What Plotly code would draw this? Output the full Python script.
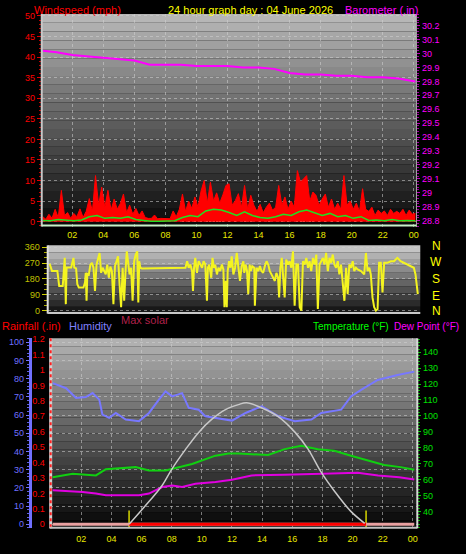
import plotly.graph_objects as go

W, H = 466, 554
def fx(p): return p / W
def fy(p): return 1 - p / H

# ---------------- DATA ----------------
hour_ticks = [2, 4, 6, 8, 10, 12, 14, 16, 18, 20, 22, 24]
hour_labels = ["02", "04", "06", "08", "10", "12", "14", "16", "18", "20", "22", "00"]

baro_hours = [0.1, 1, 2, 3, 4, 5, 6, 7, 8, 9, 10, 11, 12, 13, 14, 15, 16, 17, 18, 19, 20, 21, 22, 23, 24.1]
baro_in = [30.02, 30.01, 29.99, 29.98, 29.97, 29.96, 29.95, 29.92, 29.92, 29.92, 29.91, 29.91, 29.91,
           29.90, 29.90, 29.89, 29.86, 29.85, 29.85, 29.84, 29.84, 29.83, 29.83, 29.82, 29.80]

gust_hours = [round(0.1 + 0.2 * i, 2) for i in range(121)]
gust_mph = [
    1.2, 0.6, 1.8, 0.8, 3.0,
    1.0, 7.6, 1.5, 2.2, 0.8,
    2.0, 1.2, 3.1, 1.0, 2.5,
    5.6, 2.5, 11.2, 4.0, 8.4,
    3.5, 7.6, 2.8, 5.5, 3.0,
    4.4, 6.7, 2.2, 4.0, 1.8,
    3.2, 1.5, 2.6, 1.0, 0.8,
    0.8, 1.6, 0.7, 0.8, 0.8,
    0.8, 0.7, 2.6, 1.2, 3.0,
    6.7, 2.5, 5.0, 3.2, 6.0,
    3.5, 7.5, 10.0, 4.5, 9.6,
    5.0, 7.0, 4.5, 6.5, 8.8,
    9.2, 4.0, 5.1, 6.8, 3.5,
    8.8, 3.0, 6.4, 4.0, 2.5,
    4.2, 2.2, 3.5, 4.5, 2.8,
    3.5, 8.8, 4.0, 6.0, 3.0,
    5.0, 3.5, 12.4, 9.6, 10.4,
    11.2, 5.0, 7.2, 6.4, 4.0,
    5.5, 6.7, 3.5, 5.5, 3.0,
    4.5, 3.0, 11.2, 4.0, 5.0,
    3.0, 4.5, 2.5, 8.0, 3.0,
    2.5, 3.5, 1.5, 2.8, 2.0,
    2.6, 1.5, 3.0, 2.0, 2.5,
    2.0, 3.0, 1.5, 2.8, 1.8,
    2.0,
]

avg_hours = [0.1, 0.6, 1.1, 1.6, 2.1, 2.6, 3.1, 3.6, 4.1, 4.6, 5.1, 5.6, 6.1, 6.6, 7.1, 7.6, 8.1, 8.6,
             9.1, 9.6, 10.1, 10.6, 11.1, 11.6, 12.1, 12.6, 13.1, 13.6, 14.1, 14.6, 15.1, 15.6, 16.1,
             16.6, 17.1, 17.6, 18.1, 18.6, 19.1, 19.6, 20.1, 20.6, 21.1, 21.6, 22.1, 22.6, 23.1, 23.6, 24.1]
avg_mph = [0.3, 0.2, 0.5, 0.3, 0.2, 0.4, 1.2, 1.5, 0.8, 1.0, 0.8, 1.2, 0.5, 0.3, 0.1, 0.1, 0.1, 0.2,
           1.0, 1.5, 1.2, 2.6, 3.0, 2.8, 2.2, 1.5, 2.4, 1.5, 1.0, 0.8, 1.2, 1.8, 1.5,
           2.4, 2.8, 2.2, 1.5, 2.0, 1.2, 1.5, 0.8, 1.2, 0.3, 0.4, 0.2, 0.5, 0.2, 0.3, 0.2]

speed_hours = [9.1, 9.5, 9.9, 10.3, 10.7, 10.9, 11.1, 11.3, 11.5, 11.7, 12.1, 12.5, 13.1, 13.5, 14.1,
               14.7, 15.5, 15.9, 16.5, 16.7, 16.9, 17.3, 17.5, 17.9, 18.3, 18.7, 19.1, 19.5, 20.2,
               20.6]
speed_mph = [1.5, 1.0, 2.0, 1.2, 2.5, 3.5, 2.0, 3.0, 1.5, 3.2, 2.0, 1.0, 2.5, 1.5, 1.0,
             1.2, 2.5, 1.0, 2.0, 3.5, 2.0, 3.0, 2.5, 1.5, 2.0, 1.2, 2.0, 1.5, 3.0,
             1.0]

dir_hours = [0.10, 0.25, 0.60, 0.72, 0.95, 1.03, 1.08, 1.15, 1.20, 1.50, 1.65, 1.70, 1.82, 1.90, 2.00,
             2.30, 2.40, 2.45, 2.50, 2.55, 2.65, 2.75, 2.85, 2.95, 3.05, 3.15, 3.25, 3.35, 3.45, 3.55,
             3.65, 3.75, 3.85, 3.95, 4.05, 4.15, 4.25, 4.35, 4.45, 4.55, 4.65, 4.75, 4.85, 4.95, 5.05,
             5.12, 5.20, 5.30, 5.40, 5.50, 5.60, 5.70, 5.80, 5.87, 5.93, 6.00, 6.10, 6.57, 8.83,
             8.94, 9.05, 9.15, 9.26, 9.37, 9.43, 9.50, 9.58, 9.69, 9.80, 9.91, 10.02, 10.12, 10.23,
             10.34, 10.40, 10.49, 10.62, 10.70, 10.79, 10.88, 10.99, 11.09, 11.20, 11.31, 11.41, 11.48,
             11.57, 11.63, 11.69, 11.78, 11.87, 11.95, 12.06, 12.17, 12.28, 12.39, 12.49, 12.60, 12.71,
             12.77, 12.86, 12.95, 13.03, 13.12, 13.20, 13.29, 13.42, 13.46, 13.57, 13.68, 13.79, 13.89,
             14.00, 14.11, 14.22, 14.33, 14.43, 14.54, 14.65, 14.76, 14.86, 14.97, 15.04, 15.12, 15.21,
             15.40, 15.50, 15.62, 15.72, 15.83, 15.94, 16.05, 16.16, 16.27, 16.38, 16.49, 16.59, 16.70,
             16.81, 16.92, 17.02, 17.13, 17.24, 17.35, 17.46, 17.56, 17.67, 17.78, 17.89, 17.99, 18.10,
             18.21, 18.32, 18.43, 18.53, 18.64, 18.75, 18.86, 18.96, 19.07, 19.29, 19.40, 19.50, 19.61,
             19.72, 19.83, 19.93, 20.04, 20.15, 20.37, 20.58, 20.69, 20.80, 20.91, 21.01, 21.12, 21.23,
             21.34, 21.45, 21.55, 21.66, 21.77, 21.88, 22.09, 22.31, 22.52, 22.74, 22.95, 23.17, 23.38,
             23.60, 23.81, 23.92, 24.07]
dir_deg = [266, 225, 225, 140, 140, 244, 300, 37, 247, 245, 300, 245, 240, 150, 131,
           131, 160, 215, 56, 210, 206, 262, 272, 244, 112, 262, 300, 328, 215, 244,
           225, 206, 262, 187, 250, 225, 37, 253, 281, 309, 150, 19, 244, 56, 244,
           337, 281, 206, 244, 56, 281, 319, 337, 47, 281, 244, 240, 240, 240,
           244, 281, 244, 262, 225, 112, 244, 300, 215, 281, 262, 244, 281, 262,
           56, 244, 262, 187, 300, 244, 262, 206, 244, 225, 262, 234, 19,
           169, 19, 225, 281, 244, 309, 206, 244, 328, 244, 169, 253, 281,
           215, 262, 225, 94, 262, 225, 253, 244, 28, 244, 225, 253, 225,
           215, 253, 281, 262, 225, 206, 187, 169, 215, 187, 75, 244, 300,
           75, 290, 262, 281, 244, 337, 28, 262, 262, 19, 0, 281, 262,
           300, 244, 281, 225, 300, 262, 319, 9, 262, 281, 300, 262, 328,
           225, 300, 272, 319, 262, 244, 281, 206, 262, 56, 244, 94, 262,
           244, 281, 225, 244, 234, 225, 206, 328, 225, 244, 206, 75, 19,
           0, 9, 272, 272, 103, 272, 272, 281, 281, 300, 281, 272, 262,
           253, 244, 206, 94]

hum_hours = [0.1, 0.99, 1.65, 2.3, 2.75, 3.19, 3.4, 3.85, 4.29, 4.95, 5.83, 6.49, 7.15, 7.59, 8.03,
             8.69, 9.13, 9.79, 10.23, 10.9, 11.55, 12.0, 12.9, 13.97, 15.07, 16.17, 17.27, 17.93,
             19.25, 19.9, 20.57, 21.67, 22.99, 24.1]
humidity = [77.6, 74.8, 69.4, 69.9, 72.1, 68.5, 60.3, 58.5, 61.2, 57.6, 56.7, 61.2, 68.5, 73.0, 70.3,
            72.1, 64.0, 63.0, 59.4, 58.5, 57.6, 57.0, 61.2, 64.8, 59.4, 56.7, 57.6, 61.2,
            63.0, 70.3, 73.9, 79.3, 82.1, 83.9]

temp_hours = [0.1, 1.43, 2.97, 3.63, 5.6, 6.49, 7.59, 8.03, 9.35, 10.9, 11.77, 12.43, 13.3, 14.4,
              15.5, 16.6, 17.7, 18.8, 19.9, 21.0, 22.1, 23.2, 24.1]
temp_f = [61.5, 63.6, 62.6, 66.5, 67.8, 65.7, 65.7, 66.7, 69.8, 75.0, 76.4, 76.4, 76.0, 75.4,
          79.1, 81.2, 79.1, 78.1, 75.0, 71.9, 69.2, 67.8, 66.1]

dew_hours = [0.1, 2.09, 2.97, 3.63, 4.73, 5.83, 6.49, 7.37, 8.03, 8.69, 9.57, 10.9, 12.0, 13.3,
             15.5, 17.7, 20.35, 21.7, 23.1, 24.1]
dew_f = [53.2, 52.2, 51.2, 50.1, 50.1, 50.1, 51.2, 55.3, 56.3, 55.3, 57.4, 58.4, 59.9, 62.6,
         63.0, 63.6, 64.2, 62.6, 61.5, 60.0]

solar_hours = [5.17, 6.49, 7.35, 8.01, 8.93, 9.79, 10.65, 11.57, 12.43, 12.96, 13.95, 15.07, 16.19,
               17.05, 17.91, 18.83, 19.89, 20.81]
max_solar = [0, 169, 286, 410, 558, 682, 778, 851, 888, 902, 865, 799, 682, 558, 389, 242, 96, 7]

rain_hours = [0.1, 24.1]
rain_in = [0.0, 0.0]
sunrise, sunset = 5.17, 20.9

# ---------------- FIGURE ----------------
FONT = "Liberation Sans, Arial, sans-serif"
fig = go.Figure()

# top panel
fig.add_trace(go.Scatter(x=gust_hours, y=gust_mph, mode="lines", fill="tozeroy",
                         line=dict(color="#ff0000", width=1), fillcolor="#ff0000",
                         xaxis="x", yaxis="y"))
fig.add_trace(go.Bar(x=speed_hours, y=speed_mph, width=0.09, marker=dict(color="#d8f4d8", line_width=0),
                     xaxis="x", yaxis="y"))
fig.add_trace(go.Scatter(x=avg_hours, y=avg_mph, mode="lines",
                         line=dict(color="#20e020", width=1.5), xaxis="x", yaxis="y"))
fig.add_trace(go.Scatter(x=baro_hours, y=baro_in, mode="lines",
                         line=dict(color="#ff00ff", width=2), xaxis="x", yaxis="y2"))

# middle panel
fig.add_trace(go.Scatter(x=dir_hours, y=dir_deg, mode="lines",
                         line=dict(color="#f4f420", width=2), xaxis="x2", yaxis="y3"))

# bottom panel
fig.add_trace(go.Scatter(x=rain_hours, y=rain_in, mode="lines",
                         line=dict(color="#e8a0a0", width=3), xaxis="x3", yaxis="y5"))
fig.add_trace(go.Scatter(x=[sunrise, sunset], y=[rain_in[0], rain_in[-1]], mode="lines",
                         line=dict(color="#ff0000", width=3), xaxis="x3", yaxis="y5"))
fig.add_trace(go.Scatter(x=hum_hours, y=humidity, mode="lines",
                         line=dict(color="#7878ff", width=2), xaxis="x3", yaxis="y4"))
fig.add_trace(go.Scatter(x=temp_hours, y=temp_f, mode="lines",
                         line=dict(color="#10d010", width=2), xaxis="x3", yaxis="y6"))
fig.add_trace(go.Scatter(x=dew_hours, y=dew_f, mode="lines",
                         line=dict(color="#e000e0", width=2), xaxis="x3", yaxis="y6"))
fig.add_trace(go.Scatter(x=solar_hours, y=max_solar, mode="lines", line_shape="spline",
                         line=dict(color="#c8c8c8", width=1.5), xaxis="x3", yaxis="y7"))
fig.add_trace(go.Scatter(x=[sunrise, sunrise, None, sunset, sunset],
                         y=[-2.2, 7.6, None, -2.2, 7.6], mode="lines",
                         line=dict(color="#d8d800", width=1.5), xaxis="x3", yaxis="y4"))

# ---------------- BACKGROUND ----------------
shapes = []
def bands(x0, x1, y0, y1, c_top, c_bot, n):
    for i in range(n):
        t = i / (n - 1)
        c = int(round(c_top + (c_bot - c_top) * t))
        shapes.append(dict(type="rect", xref="paper", yref="paper",
                           x0=fx(x0), x1=fx(x1),
                           y0=fy(y0 + (y1 - y0) * i / n), y1=fy(y0 + (y1 - y0) * (i + 1) / n),
                           fillcolor=f"rgb({c},{c},{c})", line_width=0, layer="below"))

bands(42, 419, 10, 225, 182, 10, 24)
bands(48, 423, 244, 313, 196, 24, 10)
bands(50, 420, 338, 530, 176, 8, 24)

def pline(x0, y0, x1, y1, color, width=1, dash=None):
    d = dict(type="line", xref="paper", yref="paper", x0=fx(x0), y0=fy(y0), x1=fx(x1), y1=fy(y1),
             line=dict(color=color, width=width), layer="above")
    if dash:
        d["line"]["dash"] = dash
    shapes.append(d)

pline(42, 10, 42, 225, "#c8c8c8", 2)
pline(42, 224, 419, 224, "#c8f0c8", 2)
pline(48, 244, 48, 313, "#e0e0e0", 2)
pline(48, 312.5, 423, 312.5, "#c8c8c8", 2)
pline(51, 338, 51, 530, "#d0d0d0", 3)
pline(51, 338, 51, 530, "#ff2020", 2, "dot")
pline(50, 529.5, 420, 529.5, "#c0c0c0", 2)
pline(420, 338, 420, 530, "#d8d8d8", 2)

# ---------------- AXES ----------------
grid = "rgba(210,210,210,0.55)"

layout_axes = dict(
    xaxis=dict(domain=[fx(42), fx(419)], range=[0.036, 24.16], anchor="y",
               tickvals=hour_ticks, ticktext=hour_labels, ticks="",
               tickfont=dict(family=FONT, size=9, color="#e8e800"), ticklabelstandoff=1,
               showgrid=True, gridcolor=grid, griddash="dot", gridwidth=1,
               zeroline=False, showline=False),
    yaxis=dict(domain=[fy(225), fy(10)], range=[-1.2, 50.5], anchor="x",
               tickvals=list(range(0, 51, 5)), ticks="outside", ticklen=4, tickcolor="#e00000",
               tickfont=dict(family=FONT, size=9, color="#ff0000"),
               minor=dict(dtick=1, tick0=0, ticks="outside", ticklen=2, tickcolor="#c00000", showgrid=False),
               showgrid=True, gridcolor=grid, griddash="dot", zeroline=False, showline=False),
    yaxis2=dict(overlaying="y", side="right", anchor="x", range=[28.757, 30.285],
                tickvals=[28.8, 28.9, 29.0, 29.1, 29.2, 29.3, 29.4, 29.5, 29.6, 29.7, 29.8, 29.9, 30.0, 30.1, 30.2],
                ticktext=["28.8", "28.9", "29", "29.1", "29.2", "29.3", "29.4", "29.5", "29.6", "29.7",
                          "29.8", "29.9", "30", "30.1", "30.2"],
                ticks="outside", ticklen=3, tickcolor="#c000c0",
                tickfont=dict(family=FONT, size=9, color="#ff00ff"),
                minor=dict(dtick=0.02, tick0=28.8, ticks="outside", ticklen=2, tickcolor="#a000a0", showgrid=False),
                showgrid=False, zeroline=False, showline=True, linecolor="#a0a0a0", linewidth=1),
    xaxis2=dict(domain=[fx(48), fx(423)], range=[-0.03, 24.23], anchor="y3",
                showticklabels=False, ticks="", showgrid=False, zeroline=False, showline=False),
    yaxis3=dict(domain=[fy(313), fy(244)], range=[-16.9, 371.25], anchor="x2",
                tickvals=[0, 90, 180, 270, 360], ticks="outside", ticklen=5, tickcolor="#d0d000",
                tickfont=dict(family=FONT, size=9, color="#c0c000"),
                minor=dict(dtick=30, tick0=0, ticks="outside", ticklen=3, tickcolor="#b0b000", showgrid=False),
                showgrid=True, gridcolor=grid, griddash="dot", zeroline=False, showline=False),
    xaxis3=dict(domain=[fx(50), fx(420)], range=[-0.1, 24.3], anchor="y4",
                tickvals=hour_ticks, ticktext=hour_labels, ticks="",
                tickfont=dict(family=FONT, size=9, color="#e8e800"), ticklabelstandoff=4,
                showgrid=True, gridcolor=grid, griddash="dot", zeroline=False, showline=False),
    yaxis4=dict(domain=[fy(530), fy(338)], range=[-2.17, 102.2], anchor="free", position=fx(30),
                side="left", tickvals=list(range(0, 101, 10)), ticks="outside", ticklen=3,
                tickcolor="#7070ff", tickfont=dict(family=FONT, size=9, color="#7070ff"),
                minor=dict(dtick=2, tick0=0, ticks="outside", ticklen=2, tickcolor="#6060e0", showgrid=False),
                showline=True, linecolor="#7070ff", linewidth=3,
                showgrid=True, gridcolor=grid, griddash="dot", zeroline=False),
    yaxis5=dict(overlaying="y4", anchor="x3", side="left", range=[-0.0256, 1.205],
                tickvals=[0, 0.1, 0.2, 0.3, 0.4, 0.5, 0.6, 0.7, 0.8, 0.9, 1.0, 1.1, 1.2],
                ticktext=["0", "0.1", "0.2", "0.3", "0.4", "0.5", "0.6", "0.7", "0.8", "0.9", "1", "1.1", "1.2"],
                ticks="", ticklabelstandoff=4,
                tickfont=dict(family=FONT, size=9, color="#ff0000"),
                showgrid=False, zeroline=False, showline=False),
    yaxis6=dict(overlaying="y4", anchor="x3", side="right", range=[29.4, 148.7],
                tickvals=list(range(40, 141, 10)), ticks="outside", ticklen=3, tickcolor="#00d000",
                tickfont=dict(family=FONT, size=9, color="#00e000"),
                minor=dict(dtick=2, tick0=40, ticks="outside", ticklen=2, tickcolor="#00b000", showgrid=False),
                showgrid=False, zeroline=False, showline=False),
    yaxis7=dict(overlaying="y4", anchor="x3", range=[-29.3, 1379.7], visible=False),
)

# ---------------- TEXT ----------------
def ann(text, x, y, color, size=11, xanchor="left"):
    return dict(text=text, x=fx(x), y=fy(y), xref="paper", yref="paper", showarrow=False,
                xanchor=xanchor, yanchor="middle", font=dict(family=FONT, size=size, color=color))

annotations = [
    ann("Windspeed (mph)", 32, 6, "#ff0000"),
    ann("24 hour graph day : 04 June 2026", 252, 6, "#ffff00", xanchor="center"),
    ann("Barometer (.in)", 423, 6, "#ff00ff", xanchor="right"),
    ann("N", 439, 245, "#ffff00", 12, "center"),
    ann("W", 439, 261, "#ffff00", 12, "center"),
    ann("S", 439, 278, "#ffff00", 12, "center"),
    ann("E", 439, 295, "#ffff00", 12, "center"),
    ann("N", 439, 310, "#ffff00", 12, "center"),
    ann("Rainfall (.in)", 0, 326, "#ff0000"),
    ann("Humidity", 67, 326, "#8080ff"),
    ann("Max solar", 120, 319, "#b0204a"),
    ann("Temperature (°F)", 313, 326, "#00ff00", 10),
    ann("Dew Point (°F)", 464, 326, "#ff00ff", 10, "right"),
]

fig.update_layout(
    width=W, height=H, margin=dict(l=0, r=0, t=0, b=0),
    paper_bgcolor="#000000", plot_bgcolor="rgba(0,0,0,0)",
    showlegend=False, bargap=0, font=dict(family=FONT),
    shapes=shapes, annotations=annotations, **layout_axes,
)

fig.write_html("out.html", config={"displayModeBar": False},
               post_script="document.body.style.margin='0';document.body.style.background='#000';")
